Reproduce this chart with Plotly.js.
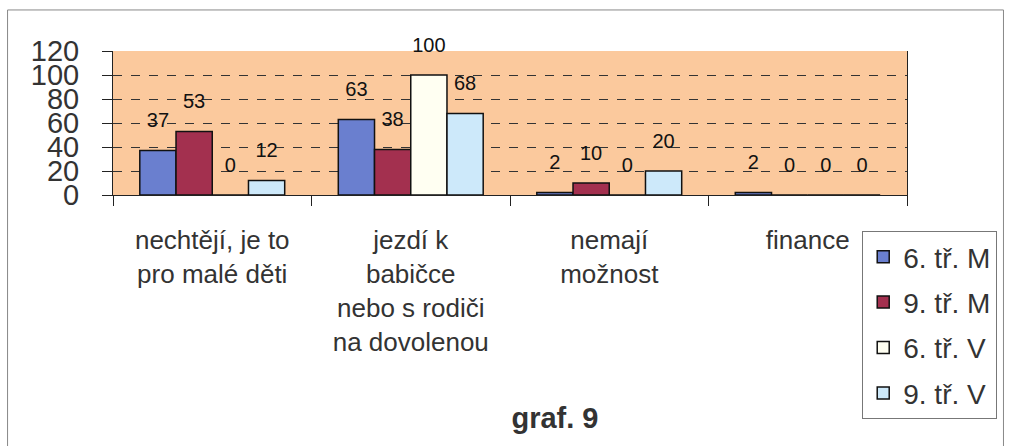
<!DOCTYPE html>
<html>
<head>
<meta charset="utf-8">
<script src="https://cdn.plot.ly/plotly-3.0.1.min.js"></script>
<style>html,body{margin:0;padding:0;background:#fff;}#chart{width:1009px;height:446px;}</style>
</head>
<body>
<div id="chart"></div>
<script>
const categories = [
  "nechtějí, je to<br>pro malé děti",
  "jezdí k<br>babičce<br>nebo s rodiči<br>na dovolenou",
  "nemají<br>možnost",
  "finance"
];
const seriesNames = ["6. tř. M", "9. tř. M", "6. tř. V", "9. tř. V"];
const s6M = [37, 63, 2, 2];
const s9M = [53, 38, 10, 0];
const s6V = [0, 100, 0, 0];
const s9V = [12, 68, 20, 0];
const yTicks = [0, 20, 40, 60, 80, 100, 120];

const colors = ["#6a7fcf", "#a3304f", "#fffff2", "#cde9fa"];
const values = [s6M, s9M, s6V, s9V];
const FONT = "Liberation Sans, Arial, sans-serif";

const barTraces = values.map((v, i) => ({
  type: "bar",
  name: seriesNames[i],
  x: categories,
  y: v,
  legendgroup: "g" + i,
  offsetgroup: "o" + i,
  marker: {color: colors[i], line: {color: "#111", width: 1.5}},
  hoverinfo: "none"
}));

const labelTraces = values.map((v, i) => ({
  type: "scatter",
  mode: "markers+text",
  x: categories,
  y: v,
  offsetgroup: "o" + i,
  legendgroup: "g" + i,
  showlegend: false,
  marker: {size: 28, opacity: 0, color: "rgba(0,0,0,0)"},
  text: v.map(String),
  textposition: "top center",
  cliponaxis: false,
  textfont: {family: FONT, size: 20, color: "#111"},
  hoverinfo: "none"
}));

const layout = {
  width: 1009, height: 446,
  margin: {l: 113, r: 98, t: 51, b: 251},
  paper_bgcolor: "#ffffff",
  plot_bgcolor: "#fbc99d",
  barmode: "group",
  scattermode: "group",
  bargap: 0.27,
  scattergap: 0.27,
  bargroupgap: 0,
  font: {family: FONT, color: "#333"},
  title: {
    text: "<b>graf. 9</b>",
    x: 0.55, xref: "container", xanchor: "center",
    y: 0.063, yref: "container", yanchor: "middle",
    font: {family: FONT, size: 29, color: "#333"}
  },
  xaxis: {
    type: "category",
    tickson: "boundaries",
    ticks: "outside", ticklen: 10, tickcolor: "#222", tickwidth: 1,
    showline: true, linecolor: "#222", linewidth: 1,
    showgrid: false,
    tickfont: {family: FONT, size: 26, color: "#333"},
    ticklabelstandoff: 22,
    fixedrange: true
  },
  yaxis: {
    range: [0, 120],
    tickvals: yTicks,
    ticktext: yTicks.map(String),
    ticks: "outside", ticklen: 10, tickcolor: "#222",
    showline: true, linecolor: "#222", linewidth: 1, mirror: true,
    showgrid: true, gridcolor: "#333", gridwidth: 1, griddash: "dash",
    zeroline: false,
    tickfont: {family: FONT, size: 29, color: "#333"},
    ticklabelstandoff: 17,
    fixedrange: true
  },
  showlegend: true,
  legend: {
    x: 0.9436, xanchor: "left",
    y: -0.25, yanchor: "top",
    bgcolor: "#ffffff",
    bordercolor: "#777", borderwidth: 1,
    font: {family: FONT, size: 28, color: "#333"},
    tracegroupgap: 6,
    itemwidth: 30,
    traceorder: "grouped"
  },
  shapes: [{
    type: "rect", xref: "paper", yref: "paper",
    x0: -0.1328, x1: 1.1215, y0: -1.75, y1: 1.285,
    line: {color: "#888", width: 1}, layer: "below"
  }]
};

Plotly.newPlot("chart", barTraces.concat(labelTraces), layout, {displayModeBar: false, staticPlot: true});
</script>
</body>
</html>
